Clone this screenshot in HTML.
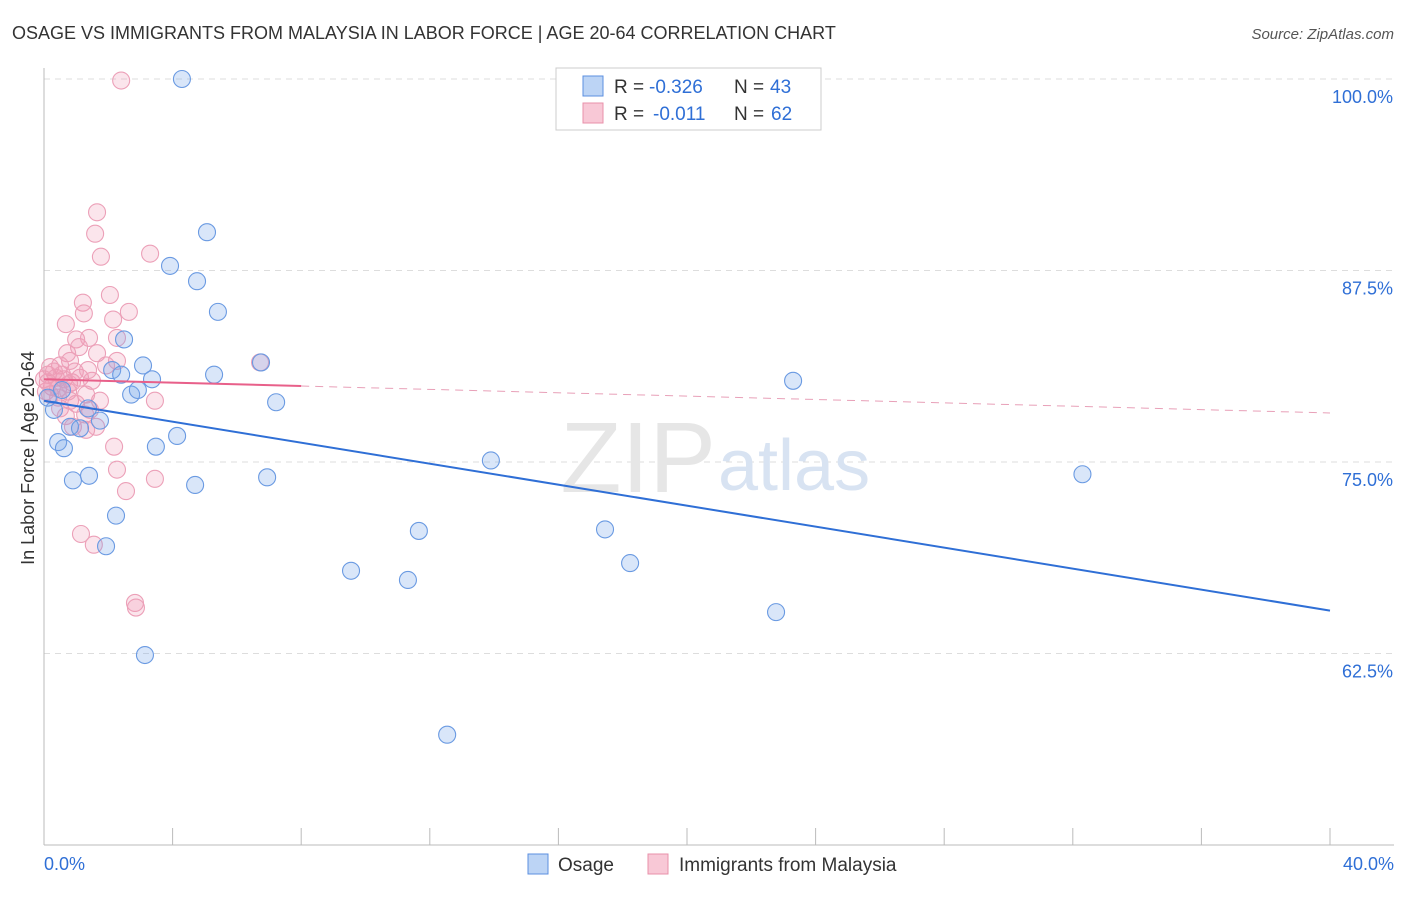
<!DOCTYPE html>
<html><head><meta charset="utf-8"><style>
body{margin:0;background:#fff;font-family:"Liberation Sans",sans-serif;}
svg text{font-family:"Liberation Sans",sans-serif;}
</style></head><body>
<svg id="c" width="1406" height="892">
<text x="12" y="39" font-size="18" fill="#333">OSAGE VS IMMIGRANTS FROM MALAYSIA IN LABOR FORCE | AGE 20-64 CORRELATION CHART</text>
<text x="1394" y="39" font-size="15" fill="#555" text-anchor="end" font-style="italic">Source: ZipAtlas.com</text>
<text x="34" y="458" font-size="18" fill="#333" text-anchor="middle" transform="rotate(-90 34 458)">In Labor Force | Age 20-64</text>
<g id="grid"></g>
<text x="716" y="492" font-size="100" fill="#e6e6e6" text-anchor="end" font-family="Liberation Serif">ZIP</text>
<text x="718" y="490" font-size="72" fill="#d8e3f2">atlas</text>
<g id="pts"></g>
<g id="lines"></g>
<g>
<rect x="556" y="68" width="265" height="62" fill="#fff" stroke="#ccc"/>
<rect x="583" y="76" width="20" height="20" fill="#bcd4f5" stroke="#5b8fe0"/>
<text x="614" y="93" font-size="19" fill="#333">R =</text>
<text x="649" y="93" font-size="19" fill="#2f6fd6">-0.326</text>
<text x="734" y="93" font-size="19" fill="#333">N =</text>
<text x="770" y="93" font-size="19" fill="#2f6fd6">43</text>
<rect x="583" y="103" width="20" height="20" fill="#f8c8d6" stroke="#e890aa"/>
<text x="614" y="120" font-size="19" fill="#333">R =</text>
<text x="653" y="120" font-size="19" fill="#2f6fd6">-0.011</text>
<text x="734" y="120" font-size="19" fill="#333">N =</text>
<text x="771" y="120" font-size="19" fill="#2f6fd6">62</text>
</g>
<g>
<rect x="528" y="854" width="20" height="20" fill="#bcd4f5" stroke="#5b8fe0"/>
<text x="558" y="871" font-size="19" fill="#333">Osage</text>
<rect x="648" y="854" width="20" height="20" fill="#f8c8d6" stroke="#e890aa"/>
<text x="679" y="871" font-size="19" fill="#333">Immigrants from Malaysia</text>
</g>
</svg>
<script>
const yTicks=[100,87.5,75,62.5];
const yTickLabels=["100.0%","87.5%","75.0%","62.5%"];
const xTicks=[0,4,8,12,16,20,24,28,32,36,40];
const osageX=[4.29,5.07,3.92,4.76,5.41,2.49,3.08,2.12,2.40,3.36,5.29,6.75,23.3,2.71,2.92,7.22,0.31,1.37,1.74,0.81,1.12,4.14,0.44,0.62,3.48,13.9,32.3,0.90,1.40,4.70,6.94,2.24,11.66,17.45,1.93,9.55,11.32,18.23,22.77,3.14,12.54,0.12,0.56];
const osageY=[100,90.0,87.8,86.8,84.8,83.0,81.3,81.0,80.7,80.4,80.7,81.5,80.3,79.4,79.7,78.9,78.4,78.5,77.7,77.3,77.2,76.7,76.3,75.9,76.0,75.1,74.2,73.8,74.1,73.5,74.0,71.5,70.5,70.6,69.5,67.9,67.3,68.4,65.2,62.4,57.2,79.2,79.7];
const malX=[2.40,1.65,1.59,1.77,3.30,2.05,1.21,1.24,2.64,0.68,2.15,1.00,1.40,2.27,1.09,0.72,1.65,0.81,2.27,6.72,0.50,0.19,0.12,0.37,0.62,0.87,1.12,1.49,0.25,0.44,0.75,0.06,3.45,0.81,1.00,1.43,0.50,1.28,0.68,0.90,1.31,1.62,2.18,2.27,3.45,2.55,1.15,1.55,2.83,2.86,0.12,0.31,0.56,0,0.19,0.44,1.74,1.93,0.96,0.78,1.31,1.37];
const malY=[99.9,91.3,89.9,88.4,88.6,85.9,85.4,84.7,84.8,84.0,84.3,83.0,83.1,83.1,82.5,82.1,82.1,81.6,81.6,81.5,81.3,81.2,80.7,80.5,80.4,80.2,80.5,80.3,79.9,79.8,79.6,79.6,79.0,79.0,78.8,78.4,78.5,78.1,78.0,77.3,77.1,77.3,76.0,74.5,73.9,73.1,70.3,69.6,65.8,65.5,80.2,80.9,80.7,80.4,79.4,79.2,79.0,81.3,80.9,80.1,79.4,81.0];
const osageTrend=[79.0,65.3];
const malTrend=[80.4,78.2];
const malSolidEnd=8;
const NS="http://www.w3.org/2000/svg";
const X0=44,X1=1330,YT=79,PX=191.5/12.5;
const sx=v=>X0+(v/40)*(X1-X0);
const sy=v=>YT+(100-v)*PX;
function mk(t,a,p){const e=document.createElementNS(NS,t);for(const k in a)e.setAttribute(k,a[k]);p.appendChild(e);return e;}
const grid=document.getElementById('grid');
yTicks.forEach((t,i)=>{
 const l=mk('line',{x1:X0,x2:1394,y1:sy(t),y2:sy(t),stroke:'#ddd','stroke-dasharray':'6,5'},grid);
 
 
 const tx=mk('text',{x:1393,y:sy(t)+24,'font-size':18,fill:'#2f6fd6','text-anchor':'end'},grid);
 tx.textContent=yTickLabels[i];
 
 
});
const ax=mk('line',{x1:X0,x2:X0,y1:68,y2:845,stroke:'#bbb'},grid);


const bx=mk('line',{x1:X0,x2:1394,y1:845,y2:845,stroke:'#bbb'},grid);


xTicks.forEach(t=>{const l=mk('line',{x1:sx(t),x2:sx(t),y1:828,y2:845,stroke:'#bbb'},grid);
 
 });
const xl0=mk('text',{x:44,y:870,'font-size':18,fill:'#2f6fd6'},grid);xl0.textContent='0.0%';


const xl1=mk('text',{x:1394,y:870,'font-size':18,fill:'#2f6fd6','text-anchor':'end'},grid);xl1.textContent='40.0%';


const pts=document.getElementById('pts');
malX.forEach((x,i)=>{const c=mk('circle',{cx:sx(x),cy:sy(malY[i]),r:8.5,fill:'rgba(240,150,178,0.25)',stroke:'#eca0b8','stroke-width':1.1},pts);
 
 });
osageX.forEach((x,i)=>{const c=mk('circle',{cx:sx(x),cy:sy(osageY[i]),r:8.5,fill:'rgba(120,165,235,0.28)',stroke:'#6a9ae2','stroke-width':1.1},pts);
 
 });
const lines=document.getElementById('lines');
const bl=mk('line',{x1:sx(0),y1:sy(osageTrend[0]),x2:sx(40),y2:sy(osageTrend[1]),stroke:'#2f6fd6','stroke-width':2},lines);


const my=x=>malTrend[0]+(malTrend[1]-malTrend[0])*x/40;
const pl=mk('line',{x1:sx(0),y1:sy(my(0)),x2:sx(malSolidEnd),y2:sy(my(malSolidEnd)),stroke:'#e8608a','stroke-width':2},lines);


const pd=mk('line',{x1:sx(malSolidEnd),y1:sy(my(malSolidEnd)),x2:sx(40),y2:sy(my(40)),stroke:'#e8a0b8','stroke-width':1,'stroke-dasharray':'8,6'},lines);


</script>
</body></html>
